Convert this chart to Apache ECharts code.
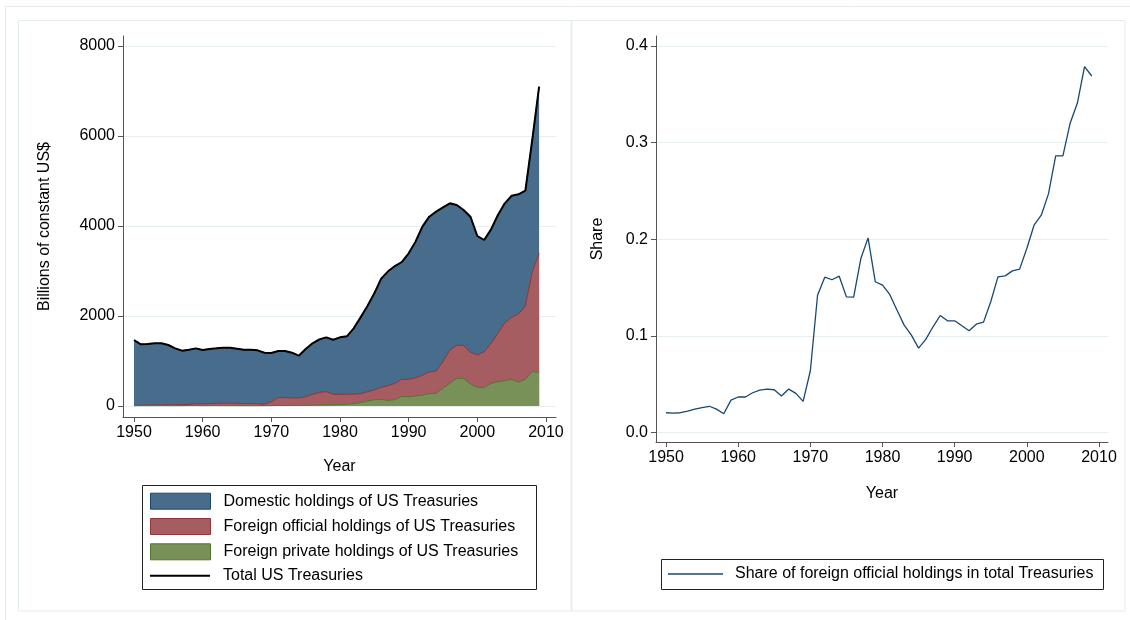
<!DOCTYPE html>
<html><head><meta charset="utf-8">
<script src="https://cdn.jsdelivr.net/npm/echarts@6/dist/echarts.min.js"></script>
<style>html,body{margin:0;padding:0;background:#fff}#c{width:1130px;height:620px}</style>
</head><body><div id="c"></div>
<script>
const years = [1950,1951,1952,1953,1954,1955,1956,1957,1958,1959,
  1960,1961,1962,1963,1964,1965,1966,1967,1968,1969,
  1970,1971,1972,1973,1974,1975,1976,1977,1978,1979,
  1980,1981,1982,1983,1984,1985,1986,1987,1988,1989,
  1990,1991,1992,1993,1994,1995,1996,1997,1998,1999,
  2000,2001,2002,2003,2004,2005,2006,2007,2008,2009];
const totalTreasuries = [1467,1370,1378,1393,1393,1356,1281,1230,1252,1281,
  1244,1267,1281,1296,1296,1274,1250,1252,1237,1185,
  1178,1222,1222,1185,1119,1267,1393,1481,1526,1474,
  1526,1548,1726,1970,2222,2504,2830,2993,3111,3200,
  3393,3652,3985,4207,4319,4415,4504,4467,4356,4207,
  3778,3689,3926,4244,4504,4673,4704,4785,5911,7096];
const foreignOfficial = [8,10,12,14,16,17,20,22,30,40,
  42,46,50,53,56,54,47,47,42,32,
  86,173,177,165,162,189,239,282,292,232,
  224,220,210,194,208,216,267,327,364,378,
  386,408,437,482,497,592,740,733,733,704,
  718,800,889,1074,1289,1377,1511,1629,2222,2645];
const foreignPrivate = [7,8,8,8,9,8,8,8,10,10,
  8,9,10,9,9,8,8,8,8,8,
  10,12,13,15,16,18,20,22,26,30,
  35,42,55,80,110,140,148,125,140,215,
  207,222,244,274,281,393,504,615,615,489,
  415,407,504,541,563,593,533,593,763,748];
const officialShare = [0.0203,0.0200,0.0203,0.0220,0.0240,0.0255,0.0270,0.0240,0.0193,0.0334,
  0.0366,0.0366,0.0410,0.0438,0.0448,0.0441,0.0376,0.0448,0.0403,0.0320,
  0.0638,0.1420,0.1607,0.1580,0.1617,0.1403,0.1400,0.1800,0.2014,0.1559,
  0.1524,0.1428,0.1266,0.1110,0.1007,0.0872,0.0962,0.1093,0.1210,0.1155,
  0.1155,0.1103,0.1052,0.1120,0.1141,0.1352,0.1610,0.1620,0.1672,0.1690,
  0.1903,0.2145,0.2248,0.2469,0.2862,0.2862,0.3200,0.3407,0.3786,0.3690];
const xTicks = [1950,1960,1970,1980,1990,2000,2010];
const leftYTicks = [0,2000,4000,6000,8000];
const rightYTicks = [0,0.1,0.2,0.3,0.4];
const names = {
  dom: 'Domestic holdings of US Treasuries',
  off: 'Foreign official holdings of US Treasuries',
  priv: 'Foreign private holdings of US Treasuries',
  tot: 'Total US Treasuries',
  share: 'Share of foreign official holdings in total Treasuries'
};

// Stacked tops (private at bottom, official above it, domestic fills up to the total)
const privateTop = foreignPrivate.slice();
const officialTop = foreignOfficial.map((v, i) => v + foreignPrivate[i]);
const domesticTop = totalTreasuries.slice();
const pairs = arr => years.map((y, i) => [y, arr[i]]);

const FONT = "'Liberation Sans', Arial, sans-serif";
const AX = '#555';
const GRID = '#e6eef0';
const lbl = {fontFamily: FONT, fontSize: 16, color: '#000'};

function xAxis(gi, min, max, gap) {
  return {
    type: 'value', gridIndex: gi, min: min, max: max,
    name: 'Year', nameLocation: 'middle', nameGap: gap, nameTextStyle: lbl,
    axisLine: {show: true, onZero: false, lineStyle: {color: AX, width: 1}},
    axisTick: {show: true, length: 5, lineStyle: {color: AX}, customValues: xTicks},
    axisLabel: Object.assign({margin: 8, customValues: xTicks, formatter: v => String(v)}, lbl),
    splitLine: {show: false}
  };
}
function yAxis(gi, min, max, ticks, name, gap, fmt) {
  return {
    type: 'value', gridIndex: gi, min: min, max: max,
    name: name, nameLocation: 'middle', nameGap: gap, nameTextStyle: lbl,
    axisLine: {show: true, onZero: false, lineStyle: {color: AX, width: 1}},
    axisTick: {show: true, length: 5, lineStyle: {color: AX}, customValues: ticks},
    axisLabel: Object.assign({margin: 8, customValues: ticks, formatter: fmt}, lbl),
    splitLine: {show: true, lineStyle: {color: GRID, width: 1}}
  };
}

const chart = echarts.init(document.getElementById('c'), null, {renderer: 'canvas'});
chart.setOption({
  animation: false,
  backgroundColor: '#fff',
  textStyle: {fontFamily: FONT},
  graphic: [
    {type: 'rect', shape: {x: 5.5, y: 6.5, width: 1140, height: 640}, style: {fill: null, stroke: '#e3ebeb', lineWidth: 1}, silent: true},
    {type: 'rect', shape: {x: 18.5, y: 20.5, width: 1106.5, height: 590.5}, style: {fill: null, stroke: '#e3ebeb', lineWidth: 1}, silent: true},
    {type: 'line', shape: {x1: 571.5, y1: 20.5, x2: 571.5, y2: 611}, style: {stroke: '#e3ebeb', lineWidth: 1.5}, silent: true},
    {type: 'rect', shape: {x: 142.5, y: 485.5, width: 394, height: 104}, style: {fill: null, stroke: '#222', lineWidth: 1}, silent: true},
    {type: 'rect', shape: {x: 661.5, y: 559.5, width: 442, height: 30}, style: {fill: null, stroke: '#222', lineWidth: 1}, silent: true}
  ],
  grid: [
    {left: 123, top: 36, width: 433, height: 381},
    {left: 656, top: 36, width: 452, height: 406}
  ],
  xAxis: [xAxis(0, 1948.4, 2011.46, 42), xAxis(1, 1948.61, 2011.25, 44)],
  yAxis: [
    yAxis(0, -244, 8222, leftYTicks, 'Billions of constant US$', 70, v => String(v)),
    yAxis(1, -0.01, 0.4104, rightYTicks, 'Share', 50, v => v.toFixed(1))
  ],
  legend: [
    {
      orient: 'vertical', left: 150, top: 492.7, padding: 0, itemGap: 8.3,
      itemWidth: 60, itemHeight: 16, icon: 'rect', selectedMode: false,
      textStyle: Object.assign({lineHeight: 16, padding: [0, 0, 0, 8]}, lbl),
      data: [
        {name: names.dom, itemStyle: {color: '#486c8c', borderColor: '#1a476f', borderWidth: 1}},
        {name: names.off, itemStyle: {color: '#a65d62', borderColor: '#90353b', borderWidth: 1}},
        {name: names.priv, itemStyle: {color: '#779159', borderColor: '#55752f', borderWidth: 1}}
      ]
    },
    {
      orient: 'vertical', left: 150, top: 567.8, padding: 0,
      itemWidth: 60, itemHeight: 2, icon: 'rect', selectedMode: false,
      textStyle: Object.assign({lineHeight: 16, padding: [0, 0, 0, 8]}, lbl),
      data: [{name: names.tot, itemStyle: {color: '#000', borderWidth: 0}}]
    },
    {
      orient: 'vertical', left: 668, top: 566, padding: 0,
      itemWidth: 55, itemHeight: 1.5, icon: 'rect', selectedMode: false,
      textStyle: Object.assign({lineHeight: 16, padding: [0, 0, 0, 7]}, lbl),
      data: [{name: names.share, itemStyle: {color: '#1a476f', borderWidth: 0}}]
    }
  ],
  series: [
    {name: names.dom, type: 'line', xAxisIndex: 0, yAxisIndex: 0, symbol: 'none',
     color: '#1a476f', lineStyle: {color: '#1a476f', width: 1}, areaStyle: {color: '#486c8c', opacity: 1, origin: 'auto'},
     data: pairs(domesticTop), z: 2},
    {name: names.off, type: 'line', xAxisIndex: 0, yAxisIndex: 0, symbol: 'none',
     color: '#90353b', lineStyle: {color: '#90353b', width: 1}, areaStyle: {color: '#a65d62', opacity: 1, origin: 'auto'},
     data: pairs(officialTop), z: 3},
    {name: names.priv, type: 'line', xAxisIndex: 0, yAxisIndex: 0, symbol: 'none',
     color: '#55752f', lineStyle: {color: '#55752f', width: 1}, areaStyle: {color: '#779159', opacity: 1, origin: 'auto'},
     data: pairs(privateTop), z: 4},
    {name: names.tot, type: 'line', xAxisIndex: 0, yAxisIndex: 0, symbol: 'none',
     color: '#000', lineStyle: {color: '#000', width: 2}, data: pairs(totalTreasuries), z: 5},
    {name: names.share, type: 'line', xAxisIndex: 1, yAxisIndex: 1, symbol: 'none',
     color: '#1a476f', lineStyle: {color: '#1a476f', width: 1.3}, data: pairs(officialShare), z: 5}
  ]
});
</script>
</body></html>
